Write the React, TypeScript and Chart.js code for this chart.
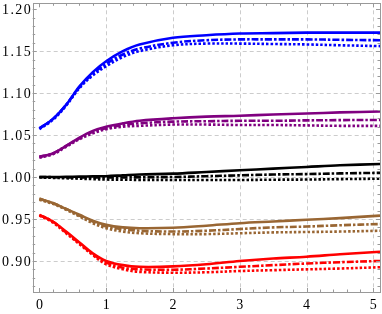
import React, { useEffect, useRef } from "react";
import { Chart, registerables } from "chart.js";

Chart.register(...registerables);

const xs = [0, 0.2, 0.4, 0.6, 0.8, 1.0, 1.25, 1.5, 2, 2.5, 3, 3.5, 4, 4.5, 5.1];

const blueSolid = [1.058, 1.069, 1.086, 1.108, 1.125, 1.138, 1.15, 1.158, 1.166, 1.169, 1.171, 1.1715, 1.172, 1.172, 1.172];
const blueDashed = [1.058, 1.069, 1.086, 1.107, 1.123, 1.135, 1.146, 1.153, 1.16, 1.163, 1.164, 1.164, 1.164, 1.1635, 1.163];
const blueDotted = [1.057, 1.068, 1.085, 1.106, 1.121, 1.132, 1.143, 1.15, 1.157, 1.159, 1.159, 1.1585, 1.158, 1.157, 1.156];

const purpleSolid = [1.024, 1.028, 1.037, 1.047, 1.055, 1.06, 1.064, 1.067, 1.07, 1.072, 1.073, 1.0745, 1.0757, 1.077, 1.078];
const purpleDashed = [1.024, 1.028, 1.037, 1.046, 1.054, 1.058, 1.062, 1.064, 1.066, 1.0665, 1.067, 1.067, 1.0675, 1.0678, 1.068];
const purpleDotted = [1.023, 1.027, 1.036, 1.045, 1.052, 1.057, 1.06, 1.061, 1.0625, 1.0625, 1.062, 1.062, 1.0615, 1.061, 1.061];

const blackSolid = [1.0, 1.0, 1.0002, 1.0005, 1.0008, 1.001, 1.002, 1.003, 1.004, 1.006, 1.008, 1.01, 1.012, 1.014, 1.0155];
const blackDashed = [1.0, 0.9998, 0.9996, 0.9995, 0.9995, 0.9995, 0.9995, 0.9997, 1.0, 1.001, 1.002, 1.003, 1.0035, 1.0043, 1.005];
const blackDotted = [0.9995, 0.999, 0.9985, 0.998, 0.9975, 0.997, 0.9968, 0.9966, 0.9965, 0.9965, 0.9965, 0.9968, 0.997, 0.9975, 0.998];

const brownSolid = [0.974, 0.969, 0.962, 0.955, 0.948, 0.943, 0.94, 0.939, 0.9395, 0.942, 0.945, 0.947, 0.949, 0.951, 0.954];
const brownDashed = [0.974, 0.969, 0.962, 0.954, 0.947, 0.941, 0.938, 0.936, 0.935, 0.936, 0.938, 0.94, 0.941, 0.9425, 0.944];
const brownDotted = [0.973, 0.968, 0.961, 0.953, 0.945, 0.939, 0.935, 0.933, 0.932, 0.932, 0.933, 0.934, 0.9345, 0.935, 0.936];

const redSolid = [0.955, 0.947, 0.935, 0.922, 0.909, 0.9, 0.895, 0.893, 0.8935, 0.896, 0.9, 0.903, 0.905, 0.908, 0.911];
const redDashed = [0.955, 0.947, 0.934, 0.921, 0.908, 0.898, 0.892, 0.89, 0.8895, 0.891, 0.893, 0.895, 0.897, 0.8985, 0.9];
const redDotted = [0.954, 0.946, 0.933, 0.92, 0.907, 0.896, 0.89, 0.887, 0.886, 0.8865, 0.888, 0.889, 0.89, 0.891, 0.8925];

const xTickLabels = ["0", "1", "2", "3", "4", "5"];
const yTickLabels = ["0.90", "0.95", "1.00", "1.05", "1.10", "1.15", "1.20"];
const xGrid = [1, 2, 3, 4, 5];
const yGrid = [0.9, 0.95, 1.0, 1.05, 1.1, 1.15];

const X_MIN = -0.1;
const X_MAX = 5.1;
const Y_MIN = 0.863;
const Y_MAX = 1.207;

const COLORS = {
  blue: "#0000ff",
  purple: "#800080",
  black: "#000000",
  brown: "#996633",
  red: "#ff0000",
};

const DASH_DOT = [7, 2, 2.5, 2];
const DOTTED = [2.5, 2];

function toPoints(vals: number[]) {
  return vals.map((v, i) => ({ x: xs[i], y: v }));
}

function ds(vals: number[], color: string, dash: number[]) {
  return {
    data: toPoints(vals),
    borderColor: color,
    backgroundColor: color,
    borderWidth: 2.6,
    borderDash: dash,
    pointRadius: 0,
    fill: false,
    tension: 0.35,
    borderCapStyle: "butt" as const,
  };
}

const framePlugin = {
  id: "mmaFrame",
  beforeDatasetsDraw(chart: any) {
    const { ctx, chartArea, scales } = chart;
    const xs_ = scales.x;
    const ys_ = scales.y;
    ctx.save();
    ctx.strokeStyle = "#cccccc";
    ctx.lineWidth = 1;
    ctx.setLineDash([4, 3]);
    for (const g of xGrid) {
      const px = Math.round(xs_.getPixelForValue(g)) + 0.5;
      ctx.beginPath();
      ctx.moveTo(px, chartArea.top);
      ctx.lineTo(px, chartArea.bottom);
      ctx.stroke();
    }
    for (const g of yGrid) {
      const py = Math.round(ys_.getPixelForValue(g)) + 0.5;
      ctx.beginPath();
      ctx.moveTo(chartArea.left, py);
      ctx.lineTo(chartArea.right, py);
      ctx.stroke();
    }
    ctx.restore();
  },
  afterDraw(chart: any) {
    const { ctx, chartArea, scales } = chart;
    const { left, right, top, bottom } = chartArea;
    const xs_ = scales.x;
    const ys_ = scales.y;
    ctx.save();
    ctx.setLineDash([]);
    ctx.strokeStyle = "#999999";
    ctx.lineWidth = 1;
    ctx.strokeRect(Math.round(left) + 0.5, Math.round(top) + 0.5, Math.round(right - left), Math.round(bottom - top));
    for (let i = 0; i <= 25; i++) {
      const v = i * 0.2;
      const major = i % 5 === 0;
      const len = major ? 4 : 2.5;
      const px = Math.round(xs_.getPixelForValue(v)) + 0.5;
      ctx.beginPath();
      ctx.moveTo(px, bottom);
      ctx.lineTo(px, bottom - len);
      ctx.moveTo(px, top);
      ctx.lineTo(px, top + len);
      ctx.stroke();
    }
    for (let i = 87; i <= 120; i++) {
      const v = i / 100;
      const major = i % 5 === 0;
      const len = major ? 4 : 2.5;
      const py = Math.round(ys_.getPixelForValue(v)) + 0.5;
      ctx.beginPath();
      ctx.moveTo(left, py);
      ctx.lineTo(left + len, py);
      ctx.moveTo(right, py);
      ctx.lineTo(right - len, py);
      ctx.stroke();
    }
    ctx.fillStyle = "#000000";
    ctx.font = "14px 'Liberation Serif', serif";
    ctx.textBaseline = "alphabetic";
    ctx.textAlign = "right";
    try {
      (ctx as any).letterSpacing = "1.4px";
    } catch (e) {}
    yTickLabels.forEach((lab) => {
      const v = parseFloat(lab);
      const py = ys_.getPixelForValue(v);
      ctx.fillText(lab, left - 0.6, py + 4.8);
    });
    try {
      (ctx as any).letterSpacing = "0px";
    } catch (e) {}
    ctx.textAlign = "center";
    xTickLabels.forEach((lab) => {
      const v = parseFloat(lab);
      const px = xs_.getPixelForValue(v);
      ctx.fillText(lab, px, bottom + 16.5);
    });
    ctx.restore();
  },
};

export default function App() {
  const ref = useRef<HTMLCanvasElement | null>(null);
  useEffect(() => {
    document.body.style.margin = "0";
    if (!ref.current) return;
    const chart = new Chart(ref.current, {
      type: "line",
      data: {
        datasets: [
          ds(blueSolid, COLORS.blue, []),
          ds(blueDashed, COLORS.blue, DASH_DOT),
          ds(blueDotted, COLORS.blue, DOTTED),
          ds(purpleSolid, COLORS.purple, []),
          ds(purpleDashed, COLORS.purple, DASH_DOT),
          ds(purpleDotted, COLORS.purple, DOTTED),
          ds(blackSolid, COLORS.black, []),
          ds(blackDashed, COLORS.black, DASH_DOT),
          ds(blackDotted, COLORS.black, DOTTED),
          ds(brownSolid, COLORS.brown, []),
          ds(brownDashed, COLORS.brown, DASH_DOT),
          ds(brownDotted, COLORS.brown, DOTTED),
          ds(redSolid, COLORS.red, []),
          ds(redDashed, COLORS.red, DASH_DOT),
          ds(redDotted, COLORS.red, DOTTED),
        ],
      },
      options: {
        animation: false,
        responsive: false,
        maintainAspectRatio: false,
        devicePixelRatio: 1,
        layout: { padding: { left: 32.7, right: 2, top: 3.3, bottom: 22 } },
        plugins: { legend: { display: false }, tooltip: { enabled: false } },
        events: [],
        scales: {
          x: { type: "linear", min: X_MIN, max: X_MAX, display: false },
          y: { type: "linear", min: Y_MIN, max: Y_MAX, display: false },
        },
      },
      plugins: [framePlugin],
    });
    return () => chart.destroy();
  }, []);
  return (
    <div style={{ position: "absolute", left: 0, top: 0, width: 382, height: 314, background: "#fff" }}>
      <canvas ref={ref} width={382} height={314} style={{ width: 382, height: 314 }} />
    </div>
  );
}
